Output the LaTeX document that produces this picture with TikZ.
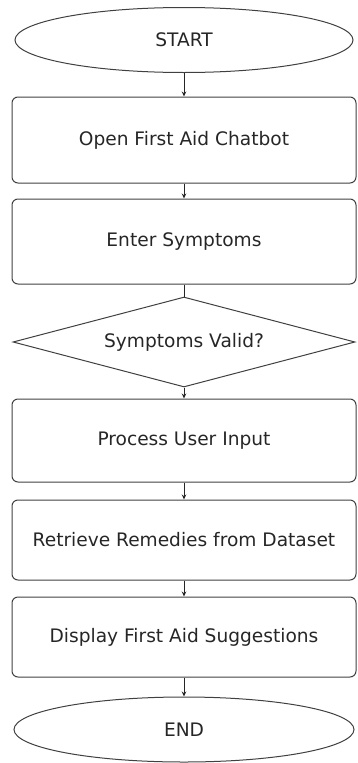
\documentclass[tikz,border=0pt]{standalone}
\usepackage{fontspec}
\setmainfont{DejaVu Sans}
\usetikzlibrary{shapes.geometric, arrows.meta}
\tikzset{
    terminal/.style={ellipse, draw=black!75, line width=1pt, inner sep=0pt, text=black!85, font=\fontsize{18.6}{22}\selectfont},
    stepbox/.style={rectangle, rounded corners=6pt, draw=black!75, line width=1pt, text=black!85, font=\fontsize{18.6}{22}\selectfont, minimum width=344pt},
    decision/.style={diamond, aspect=3.8, draw=black!75, line width=1pt, inner sep=0pt, text=black!85, font=\fontsize{18.6}{22}\selectfont, minimum width=342pt, minimum height=90pt},
    flow/.style={draw=black!85, line width=0.9pt, -{Stealth[length=5pt, width=4.5pt]}}
}

\begin{document}
\begin{tikzpicture}[x=1pt, y=-1pt]
        \useasboundingbox (0,0) rectangle (357,763);

        % ---------------- nodes ----------------
        \node[terminal, minimum width=338pt, minimum height=65pt] (start) at (184,40) {START};
        \node[stepbox, minimum height=86pt] (openBot) at (184,140) {Open First Aid Chatbot};
        \node[stepbox, minimum height=85pt] (enterSym) at (184,241.5) {Enter Symptoms};
        \node[decision] (valid) at (184,342) {Symptoms Valid?};
        \node[stepbox, minimum height=83pt] (procInput) at (184,440.5) {Process User Input};
        \node[stepbox, minimum height=80pt] (getRemedy) at (184,540) {Retrieve Remedies from Dataset};
        \node[stepbox, minimum height=80pt] (showAid) at (184,637) {Display First Aid Suggestions};
        \node[terminal, minimum width=340pt, minimum height=65pt] (finish) at (184,729.5) {END};

        % ---------------- connectors ----------------
        \draw[flow] (start) -- (openBot);
        \draw[flow] (openBot) -- (enterSym);
        \draw[draw=black!85, line width=0.9pt] (enterSym) -- (valid);
        \draw[flow] (valid) -- (procInput);
        \draw[flow] (procInput) -- (getRemedy);
        \draw[flow] (getRemedy) -- (showAid);
        \draw[flow] (showAid) -- (finish);
    \end{tikzpicture}
\end{document}
